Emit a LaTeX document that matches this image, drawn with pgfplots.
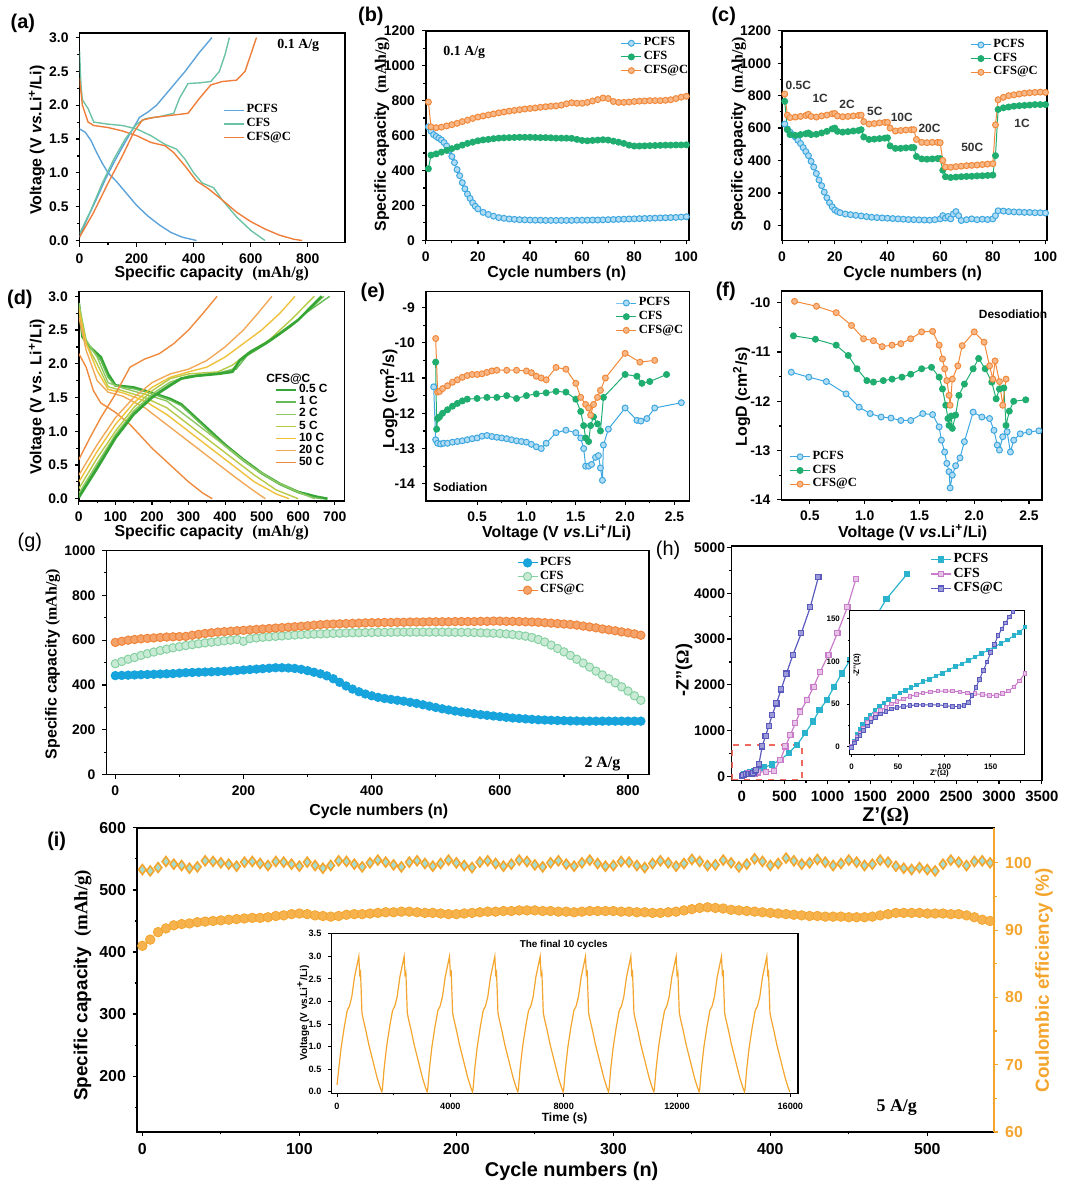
\documentclass[border=0pt]{standalone}
\usepackage{fontspec}
\setmainfont{Liberation Sans}
\newfontfamily\tnr{Liberation Serif}
\usepackage{pgfplots}
\pgfplotsset{compat=1.18}

\definecolor{aBlue}{HTML}{5DA3D9}
\definecolor{aGreen}{HTML}{6CC3A4}
\definecolor{aOrange}{HTML}{EE7E3A}
\definecolor{cBlue}{HTML}{3DA7E0}
\definecolor{cGreen}{HTML}{1FAE70}
\definecolor{cOrange}{HTML}{F2893A}
\definecolor{gBlue}{HTML}{17A3DC}
\definecolor{gGreen}{HTML}{86D1A2}
\definecolor{gOrange}{HTML}{F0843A}
\definecolor{hCyan}{HTML}{2BB3CE}
\definecolor{hPink}{HTML}{C97CC9}
\definecolor{hPurple}{HTML}{5A59BE}
\definecolor{dA}{HTML}{35A535}
\definecolor{dB}{HTML}{66BB55}
\definecolor{dC}{HTML}{8FC862}
\definecolor{dD}{HTML}{B7C946}
\definecolor{dE}{HTML}{EFC13A}
\definecolor{dF}{HTML}{F1A858}
\definecolor{dG}{HTML}{EF8B3E}
\definecolor{iOrange}{HTML}{F4A52E}
\definecolor{iCyan}{HTML}{A5DDD3}
\definecolor{boxRed}{HTML}{EE6A5E}

\newcommand\fs[1]{\fontsize{#1}{#1}\selectfont}

\pgfplotsset{
  panel/.style={scale only axis, anchor=south west, tick align=outside, tick pos=left,
    axis line style={line width=0.75pt},
    tick style={line width=0.6pt, black},
    major tick length=2pt, minor tick length=1.2pt,
    tick label style={font=\fs{7}\bfseries},
    /pgf/number format/assume math mode=true,
    /pgf/number format/1000 sep={},
    scaled ticks=false,
    legend cell align=left,
    legend style={draw=none, fill=none, font=\tnr\bfseries\fs{6.3}, inner sep=0pt,
      nodes={inner ysep=0.6pt, inner xsep=1pt}},
    legend image code/.code={\draw[mark repeat=2,mark phase=2] plot coordinates {(0pt,0pt) (5pt,0pt) (10pt,0pt)};},
  },
  mB/.style={cBlue, mark=*, mark size=1.5pt, line width=0.5pt, mark options={fill=cBlue!40!white, line width=0.5pt}},
  mG/.style={cGreen, mark=*, mark size=1.5pt, line width=0.5pt, mark options={fill=cGreen, line width=0.5pt}},
  mO/.style={cOrange, mark=*, mark size=1.5pt, line width=0.5pt, mark options={fill=cOrange!60!white, line width=0.5pt}},
  hq/.style={mark=square*, mark size=1.3pt, line width=0.6pt},
}

\begin{document}
\begin{tikzpicture}
\begin{scope}[x=0.5pt,y=-0.5pt]
\path[use as bounding box] (0,0) rectangle (1067,1187);
\coordinate (A) at (80,243);
\coordinate (B) at (428.3,240.7);
\coordinate (C) at (786.7,240.7);
\coordinate (D) at (79.3,502.7);
\coordinate (E) at (428.3,502.7);
\coordinate (F) at (786,501.7);
\coordinate (G) at (107,778.3);
\coordinate (H) at (735.7,784);
\coordinate (HI) at (854.3,757.7);
\coordinate (I) at (137.7,1137.7);
\coordinate (II) at (333.3,1099);
\end{scope}

% (a)
\begin{axis}[panel, at={(A)}, width=133.5pt, height=105.5pt,
  xmin=0, xmax=930, ymin=-0.03, ymax=3.07,
  xtick={0,200,400,600,800}, ytick={0,0.5,1,1.5,2,2.5,3},
  minor x tick num=1, minor y tick num=1,
  yticklabel style={/pgf/number format/.cd, fixed, fixed zerofill, precision=1},
  legend style={at={(0.54,0.665)}, anchor=north west}]
\addplot[aBlue, line width=0.7pt] coordinates {(0,1.65) (20,1.6) (40,1.48) (60,1.3) (80,1.14) (100,1.0) (130,0.87) (160,0.72) (200,0.52) (240,0.36) (280,0.23) (320,0.12) (360,0.05) (400,0.01) (410,0)};
\addlegendentry{PCFS}
\addplot[aGreen, line width=0.7pt] coordinates {(0,2.8) (5,2.3) (10,2.08) (30,1.95) (50,1.75) (100,1.72) (150,1.7) (200,1.65) (250,1.55) (300,1.42) (340,1.35) (370,1.2) (400,1.0) (430,0.85) (470,0.78) (500,0.6) (550,0.35) (600,0.15) (650,0.0)};
\addlegendentry{CFS}
\addplot[aOrange, line width=0.7pt] coordinates {(0,2.4) (10,2.0) (30,1.75) (50,1.7) (100,1.67) (150,1.62) (200,1.55) (250,1.45) (300,1.4) (330,1.3) (370,1.1) (410,0.88) (450,0.77) (500,0.6) (550,0.42) (600,0.28) (650,0.17) (700,0.08) (750,0.02) (780,0)};
\addlegendentry{CFS@C}
\addplot[aBlue, line width=0.7pt, forget plot] coordinates {(0,0.05) (30,0.35) (60,0.62) (90,0.9) (120,1.15) (150,1.38) (180,1.6) (210,1.82) (240,1.9) (270,2.0) (320,2.25) (370,2.5) (420,2.78) (464,3.0)};
\addplot[aGreen, line width=0.7pt, forget plot] coordinates {(0,0.1) (40,0.45) (80,0.85) (120,1.2) (160,1.5) (200,1.72) (230,1.8) (280,1.83) (330,1.88) (350,2.1) (380,2.32) (420,2.33) (460,2.35) (490,2.5) (510,2.75) (525,3.0)};
\addplot[aOrange, line width=0.7pt, forget plot] coordinates {(0,0.05) (50,0.42) (100,0.85) (150,1.25) (190,1.6) (220,1.78) (260,1.82) (320,1.85) (380,1.88) (420,2.1) (460,2.3) (500,2.35) (550,2.37) (580,2.5) (600,2.75) (620,3.0)};
\end{axis}

% (b)
\begin{axis}[panel, at={(B)}, width=132.35pt, height=105.35pt,
  xmin=0, xmax=101, ymin=0, ymax=1200,
  xtick={0,20,...,100}, ytick={0,200,...,1200},
  minor x tick num=1, minor y tick num=1,
  legend style={at={(0.74,0.975)}, anchor=north west}]
\addplot[mB] coordinates {(1,650) (2,625) (3,605) (4,595) (5,585) (6,575) (7,560) (8,540) (9,515) (10,480) (11,445) (12,405) (13,370) (14,330) (15,295) (16,265) (17,240) (18,215) (19,195) (20,180) (22,160) (24,148) (26,138) (28,130) (30,126) (32,122) (34,120) (36,118) (38,117) (40,116) (42,115) (44,115) (46,114) (48,114) (50,114) (52,114) (54,114) (56,114) (58,115) (60,115) (62,115) (64,116) (66,116) (68,117) (70,118) (72,119) (74,120) (76,121) (78,122) (80,123) (82,124) (84,125) (86,126) (88,127) (90,128) (92,129) (94,130) (96,131) (98,133) (100,135)};
\addlegendentry{PCFS}
\addplot[mG] coordinates {(1,410) (2,488) (4,495) (6,505) (8,515) (10,525) (12,535) (14,545) (16,555) (18,562) (20,570) (22,575) (24,578) (26,582) (28,585) (30,587) (32,588) (34,589) (36,590) (38,590) (40,590) (42,589) (44,588) (46,588) (48,587) (50,585) (52,585) (54,585) (56,584) (58,578) (60,572) (62,570) (64,572) (66,574) (68,576) (70,574) (72,568) (74,562) (76,555) (78,545) (80,540) (82,540) (84,541) (86,542) (88,543) (90,544) (92,545) (94,545) (96,546) (98,546) (100,547)};
\addlegendentry{CFS}
\addplot[mO] coordinates {(1,792) (2,650) (4,645) (6,648) (8,655) (10,662) (12,670) (14,680) (16,688) (18,698) (20,706) (22,712) (24,718) (26,724) (28,730) (30,735) (32,740) (34,744) (36,748) (38,752) (40,755) (42,758) (44,762) (46,765) (48,768) (50,770) (52,774) (54,782) (56,788) (58,785) (60,785) (62,790) (64,798) (66,806) (68,815) (70,812) (72,795) (74,790) (76,790) (78,792) (80,795) (82,797) (84,798) (86,800) (88,800) (90,800) (92,802) (94,805) (96,812) (98,820) (100,825)};
\addlegendentry{CFS@C}
\end{axis}

% (c)
\begin{axis}[panel, at={(C)}, width=133.15pt, height=105.35pt,
  xmin=0, xmax=100.5, ymin=-92, ymax=1200,
  xtick={0,20,...,100}, ytick={0,200,...,1200},
  minor x tick num=1, minor y tick num=1,
  legend style={at={(0.71,0.967)}, anchor=north west}]
\addplot[mB] coordinates {(1,625) (2,595) (3,575) (4,560) (5,545) (6,525) (7,505) (8,480) (9,455) (10,430) (11,395) (12,360) (13,320) (14,280) (15,245) (16,205) (17,170) (18,140) (19,115) (20,95) (21,85) (22,78) (24,70) (26,66) (28,62) (30,58) (32,54) (34,50) (36,48) (38,46) (40,44) (42,42) (44,40) (46,38) (48,36) (50,35) (52,34) (54,33) (56,32) (58,35) (60,40) (61,60) (62,45) (63,55) (64,40) (65,70) (66,85) (67,60) (68,30) (70,35) (72,40) (74,35) (76,38) (78,36) (80,40) (81,60) (82,90) (84,88) (86,85) (88,83) (90,82) (92,80) (94,80) (96,78) (98,78) (100,76)};
\addlegendentry{PCFS}
\addplot[mG] coordinates {(1,765) (2,590) (3,560) (5,555) (7,560) (9,565) (10,570) (11,560) (13,562) (15,570) (17,580) (19,595) (20,600) (21,580) (23,575) (25,578) (27,582) (29,585) (30,590) (31,545) (33,530) (35,532) (37,535) (39,538) (40,540) (41,490) (43,475) (45,475) (47,478) (49,480) (50,480) (51,425) (53,410) (55,408) (57,410) (59,412) (60,412) (61,340) (62,300) (64,295) (66,298) (68,300) (70,302) (72,303) (74,305) (76,306) (78,308) (80,310) (81,430) (82,715) (84,725) (86,730) (88,735) (90,738) (92,740) (94,742) (96,745) (98,745) (100,745)};
\addlegendentry{CFS}
\addplot[mO] coordinates {(1,810) (2,680) (3,665) (5,668) (7,672) (9,678) (10,685) (11,672) (13,668) (15,675) (17,680) (19,688) (20,690) (21,675) (23,670) (25,672) (27,675) (29,678) (30,680) (31,640) (33,625) (35,628) (37,632) (39,635) (40,635) (41,600) (43,582) (45,585) (47,588) (49,590) (50,590) (51,530) (53,512) (55,510) (57,512) (59,512) (60,510) (61,400) (62,360) (64,358) (66,362) (68,365) (70,368) (72,370) (74,372) (76,375) (78,378) (80,380) (81,620) (82,775) (84,790) (86,800) (88,805) (90,810) (92,815) (94,818) (96,820) (98,822) (100,820)};
\addlegendentry{CFS@C}
\end{axis}

% (d)
\begin{axis}[panel, at={(D)}, width=133.7pt, height=105.2pt,
  xmin=0, xmax=727, ymin=-0.03, ymax=3.07,
  xtick={0,100,...,700}, ytick={0,0.5,1,1.5,2,2.5,3},
  minor x tick num=1, minor y tick num=1,
  yticklabel style={/pgf/number format/.cd, fixed, fixed zerofill, precision=1},
  legend style={at={(0.735,0.56)}, anchor=north west, font=\bfseries\fs{6},
    nodes={inner ysep=0.2pt, inner xsep=1pt}}]
\addplot[dA, line width=1.3pt] coordinates {(0,2.9) (10,2.4) (30,2.25) (60,2.1) (80,1.85) (100,1.68) (150,1.65) (200,1.57) (250,1.48) (280,1.4) (320,1.2) (360,1.0) (400,0.8) (450,0.58) (500,0.38) (550,0.22) (600,0.1) (650,0.03) (680,0)};
\addlegendentry{0.5 C}
\addplot[dB, line width=0.7pt] coordinates {(0,2.9) (10,2.45) (30,2.25) (60,2.05) (80,1.8) (100,1.67) (150,1.63) (200,1.56) (250,1.46) (280,1.38) (320,1.18) (360,0.98) (400,0.78) (450,0.56) (500,0.37) (550,0.21) (600,0.09) (640,0.02) (665,0)};
\addlegendentry{1 C}
\addplot[dC, line width=0.7pt] coordinates {(0,2.9) (20,2.35) (50,2.1) (80,1.72) (120,1.64) (180,1.55) (240,1.45) (300,1.2) (360,0.95) (420,0.7) (480,0.45) (540,0.25) (600,0.1) (645,0)};
\addlegendentry{2 C}
\addplot[dD, line width=0.7pt] coordinates {(0,2.85) (20,2.3) (50,2.0) (80,1.66) (120,1.6) (180,1.5) (240,1.35) (300,1.1) (360,0.85) (420,0.6) (480,0.35) (540,0.13) (600,0)};
\addlegendentry{5 C}
\addplot[dE, line width=0.7pt] coordinates {(0,2.8) (20,2.3) (50,1.9) (80,1.62) (120,1.57) (180,1.45) (240,1.25) (300,1.0) (360,0.75) (420,0.5) (480,0.25) (540,0.07) (575,0)};
\addlegendentry{10 C}
\addplot[dF, line width=0.7pt] coordinates {(0,2.7) (20,2.2) (50,1.75) (80,1.58) (120,1.52) (180,1.35) (240,1.1) (300,0.85) (360,0.6) (420,0.35) (470,0.15) (510,0)};
\addlegendentry{20 C}
\addplot[dG, line width=0.7pt] coordinates {(0,2.15) (20,1.95) (40,1.6) (60,1.42) (100,1.28) (140,1.1) (200,0.75) (250,0.5) (300,0.25) (340,0.08) (365,0)};
\addlegendentry{50 C}
\addplot[dG, line width=0.7pt, forget plot] coordinates {(0,0.58) (30,0.9) (60,1.2) (100,1.55) (140,1.95) (180,2.07) (220,2.15) (260,2.3) (300,2.5) (340,2.75) (378,3.0)};
\addplot[dF, line width=0.7pt, forget plot] coordinates {(0,0.35) (50,0.8) (100,1.2) (150,1.5) (200,1.72) (250,1.85) (300,1.92) (350,2.05) (400,2.25) (450,2.5) (490,2.75) (528,3.0)};
\addplot[dE, line width=0.7pt, forget plot] coordinates {(0,0.25) (50,0.7) (100,1.1) (150,1.42) (200,1.65) (250,1.8) (300,1.88) (350,1.95) (400,2.1) (450,2.3) (500,2.5) (550,2.75) (591,3.0)};
\addplot[dD, line width=0.7pt, forget plot] coordinates {(0,0.15) (50,0.6) (100,1.0) (150,1.35) (200,1.6) (250,1.78) (300,1.85) (380,1.88) (420,1.98) (460,2.15) (520,2.35) (580,2.65) (644,3.0)};
\addplot[dC, line width=0.7pt, forget plot] coordinates {(0,0.08) (50,0.52) (100,0.95) (150,1.3) (200,1.55) (250,1.73) (300,1.82) (380,1.86) (420,1.92) (460,2.15) (520,2.33) (580,2.55) (640,2.85) (670,3.0)};
\addplot[dB, line width=0.7pt, forget plot] coordinates {(0,0.04) (50,0.48) (100,0.92) (150,1.27) (200,1.52) (250,1.7) (280,1.79) (320,1.83) (380,1.86) (430,1.92) (460,2.12) (490,2.22) (530,2.36) (570,2.52) (620,2.75) (686,3.0)};
\addplot[dA, line width=1.3pt, forget plot] coordinates {(0,0.02) (50,0.45) (100,0.9) (150,1.25) (200,1.5) (250,1.68) (280,1.78) (320,1.82) (380,1.85) (420,1.88) (440,2.05) (470,2.18) (510,2.3) (550,2.45) (600,2.65) (664,3.0)};
\end{axis}

% (e)
\begin{axis}[panel, at={(E)}, width=132.5pt, height=105.2pt,
  xmin=-0.02, xmax=2.65, ymin=-14.48, ymax=-8.55,
  xtick={0.5,1,1.5,2,2.5}, ytick={-14,-13,-12,-11,-10,-9},
  minor x tick num=1, minor y tick num=1,
  xticklabel style={/pgf/number format/.cd, fixed, fixed zerofill, precision=1},
  legend style={at={(0.72,0.98)}, anchor=north west}]
\addplot[mB] coordinates {(0.06,-11.25) (0.08,-12.75) (0.1,-12.85) (0.13,-12.87) (0.16,-12.85) (0.2,-12.85) (0.25,-12.82) (0.3,-12.8) (0.35,-12.78) (0.4,-12.75) (0.45,-12.72) (0.5,-12.7) (0.55,-12.65) (0.6,-12.63) (0.65,-12.66) (0.7,-12.68) (0.75,-12.7) (0.8,-12.72) (0.85,-12.75) (0.9,-12.78) (0.95,-12.8) (1.0,-12.82) (1.05,-12.88) (1.1,-12.95) (1.15,-13.0) (1.2,-12.85) (1.3,-12.55) (1.4,-12.48) (1.5,-12.55) (1.55,-12.7) (1.58,-13.0) (1.6,-13.5) (1.63,-13.5) (1.66,-13.45) (1.7,-13.25) (1.73,-13.2) (1.75,-13.55) (1.77,-13.9) (1.78,-12.9) (1.83,-12.45) (2.0,-11.85) (2.12,-12.2) (2.16,-12.22) (2.22,-12.15) (2.3,-11.85) (2.57,-11.7)};
\addlegendentry{PCFS}
\addplot[mG] coordinates {(0.08,-10.55) (0.09,-12.45) (0.1,-12.15) (0.12,-12.1) (0.15,-12.0) (0.2,-11.9) (0.25,-11.8) (0.3,-11.72) (0.35,-11.65) (0.4,-11.6) (0.5,-11.58) (0.6,-11.55) (0.7,-11.55) (0.8,-11.5) (0.9,-11.58) (1.0,-11.5) (1.1,-11.45) (1.2,-11.42) (1.3,-11.38) (1.4,-11.4) (1.5,-11.6) (1.55,-11.95) (1.58,-12.35) (1.6,-12.7) (1.63,-12.8) (1.65,-12.35) (1.68,-12.1) (1.72,-12.3) (1.75,-12.5) (1.78,-11.55) (2.0,-10.9) (2.12,-10.95) (2.17,-11.15) (2.25,-11.1) (2.42,-10.9)};
\addlegendentry{CFS}
\addplot[mO] coordinates {(0.08,-9.88) (0.1,-11.4) (0.12,-11.38) (0.15,-11.3) (0.2,-11.22) (0.25,-11.12) (0.3,-11.05) (0.35,-10.98) (0.4,-10.93) (0.45,-10.9) (0.5,-10.9) (0.55,-10.88) (0.6,-10.84) (0.65,-10.8) (0.7,-10.78) (0.8,-10.78) (0.9,-10.78) (1.0,-10.8) (1.05,-10.85) (1.1,-10.95) (1.15,-11.0) (1.2,-11.05) (1.3,-10.7) (1.4,-10.75) (1.5,-11.15) (1.55,-11.55) (1.6,-11.75) (1.63,-11.85) (1.65,-12.05) (1.68,-11.75) (1.72,-11.55) (1.75,-11.35) (1.8,-11.0) (2.0,-10.3) (2.15,-10.55) (2.3,-10.5)};
\addlegendentry{CFS@C}
\end{axis}

% (f)
\begin{axis}[panel, at={(F)}, width=131.15pt, height=105pt,
  xmin=0.24, xmax=2.62, ymin=-14, ymax=-9.76,
  xtick={0.5,1,1.5,2,2.5}, ytick={-14,-13,-12,-11,-10},
  minor x tick num=1, minor y tick num=1,
  xticklabel style={/pgf/number format/.cd, fixed, fixed zerofill, precision=1},
  legend style={at={(0.03,0.04)}, anchor=south west}]
\addplot[mB] coordinates {(0.33,-11.41) (0.49,-11.51) (0.65,-11.6) (0.83,-11.85) (0.95,-12.12) (1.05,-12.25) (1.15,-12.32) (1.24,-12.34) (1.33,-12.39) (1.42,-12.39) (1.53,-12.25) (1.62,-12.27) (1.68,-12.52) (1.7,-12.79) (1.73,-13.03) (1.75,-13.26) (1.77,-13.43) (1.78,-13.76) (1.8,-13.5) (1.83,-13.31) (1.87,-13.15) (1.91,-12.82) (1.99,-12.22) (2.07,-12.32) (2.14,-12.35) (2.18,-12.59) (2.21,-12.89) (2.23,-12.99) (2.26,-12.72) (2.3,-12.62) (2.33,-13.03) (2.36,-12.79) (2.42,-12.66) (2.5,-12.62) (2.59,-12.6)};
\addlegendentry{PCFS}
\addplot[mG] coordinates {(0.35,-10.67) (0.55,-10.74) (0.74,-10.86) (0.85,-11.07) (0.93,-11.34) (1.02,-11.58) (1.08,-11.61) (1.17,-11.58) (1.25,-11.55) (1.34,-11.51) (1.42,-11.45) (1.52,-11.34) (1.61,-11.31) (1.68,-11.51) (1.71,-11.75) (1.74,-12.08) (1.76,-12.35) (1.77,-12.49) (1.79,-12.3) (1.8,-12.55) (1.83,-12.28) (1.86,-11.88) (1.91,-11.65) (1.99,-11.34) (2.04,-11.13) (2.1,-11.34) (2.16,-11.61) (2.2,-11.95) (2.23,-11.75) (2.27,-11.73) (2.29,-12.49) (2.32,-12.2) (2.36,-12.0) (2.47,-11.97)};
\addlegendentry{CFS}
\addplot[mO] coordinates {(0.36,-9.97) (0.56,-10.07) (0.74,-10.2) (0.88,-10.46) (0.99,-10.73) (1.08,-10.77) (1.16,-10.89) (1.25,-10.86) (1.33,-10.83) (1.42,-10.73) (1.52,-10.59) (1.62,-10.58) (1.68,-10.86) (1.71,-11.14) (1.73,-11.34) (1.75,-11.58) (1.77,-11.88) (1.78,-12.08) (1.8,-11.55) (1.85,-11.28) (1.89,-10.87) (2.0,-10.59) (2.09,-10.8) (2.14,-11.28) (2.17,-11.55) (2.19,-11.18) (2.23,-11.6) (2.26,-12.08) (2.29,-11.55)};
\addlegendentry{CFS@C}
\end{axis}

% (g)
\begin{axis}[panel, at={(G)}, width=273pt, height=112.8pt,
  xmin=-14, xmax=833, ymin=0, ymax=1000,
  xtick={0,200,...,800}, ytick={0,200,...,1000},
  minor x tick num=1, minor y tick num=1,
  legend style={at={(0.756,0.977)}, anchor=north west}]
\addplot[gBlue, line width=0.5pt, mark=*, mark size=2.1pt, mark options={fill=gBlue}] coordinates {(0,442) (10,443) (20,444) (30,445) (40,446) (50,447) (60,448) (70,449) (80,450) (90,451) (100,453) (110,455) (120,456) (130,457) (140,458) (150,459) (160,460) (170,461) (180,463) (190,465) (200,467) (210,469) (220,471) (230,473) (240,475) (250,477) (260,477) (270,476) (280,474) (290,470) (300,464) (310,457) (320,450) (330,441) (340,428) (350,412) (360,396) (370,382) (380,370) (390,360) (400,352) (410,345) (420,340) (430,336) (440,332) (450,328) (460,323) (470,318) (480,312) (490,306) (500,300) (510,294) (520,289) (530,284) (540,280) (550,276) (560,272) (570,268) (580,265) (590,262) (600,259) (610,256) (620,253) (630,251) (640,249) (650,247) (660,245) (670,244) (680,243) (690,242) (700,241) (710,240) (720,240) (730,239) (740,239) (750,239) (760,239) (770,239) (780,239) (790,239) (800,239) (810,239) (820,239)};
\addlegendentry{PCFS}
\addplot[gGreen, line width=0.5pt, mark=*, mark size=2.1pt, mark options={fill=gGreen!45!white}] coordinates {(0,495) (10,505) (20,515) (30,523) (40,532) (50,540) (60,547) (70,554) (80,560) (90,566) (100,571) (110,576) (120,580) (130,584) (140,588) (150,591) (160,594) (170,597) (180,600) (190,603) (200,595) (210,607) (220,610) (230,613) (240,615) (250,617) (260,619) (270,621) (280,623) (290,625) (300,626) (310,627) (320,628) (330,629) (340,630) (350,631) (360,632) (370,633) (380,633) (390,634) (400,634) (410,635) (420,635) (430,635) (440,636) (450,636) (460,636) (470,636) (480,636) (490,636) (500,636) (510,636) (520,636) (530,635) (540,635) (550,635) (560,634) (570,633) (580,632) (590,631) (600,630) (610,628) (620,625) (630,622) (640,618) (650,612) (660,603) (670,592) (680,578) (690,563) (700,548) (710,532) (720,515) (730,498) (740,480) (750,462) (760,445) (770,428) (780,410) (790,392) (800,373) (810,352) (820,332)};
\addlegendentry{CFS}
\addplot[gOrange, line width=0.5pt, mark=*, mark size=2.1pt, mark options={fill=gOrange!75!white}] coordinates {(0,590) (10,595) (20,600) (30,603) (40,606) (50,608) (60,610) (70,612) (80,614) (90,615) (100,616) (110,617) (120,622) (130,626) (140,630) (150,633) (160,636) (170,638) (180,640) (190,642) (200,644) (210,646) (220,648) (230,650) (240,652) (250,654) (260,656) (270,658) (280,660) (290,662) (300,664) (310,667) (320,669) (330,671) (340,672) (350,673) (360,674) (370,675) (380,676) (390,677) (400,678) (410,678) (420,679) (430,679) (440,680) (450,680) (460,681) (470,681) (480,681) (490,682) (500,682) (510,682) (520,682) (530,683) (540,683) (550,683) (560,683) (570,684) (580,684) (590,685) (600,685) (610,684) (620,684) (630,683) (640,682) (650,681) (660,680) (670,678) (680,676) (690,674) (700,672) (710,670) (720,667) (730,663) (740,659) (750,655) (760,650) (770,646) (780,642) (790,637) (800,633) (810,628) (820,622)};
\addlegendentry{CFS@C}
\end{axis}

% (h)
\begin{axis}[panel, at={(H)}, width=156.15pt, height=118pt,
  xmin=-120, xmax=3500, ymin=-90, ymax=5040,
  xtick={0,500,...,3500}, ytick={0,1000,...,5000},
  minor x tick num=1, minor y tick num=1,
  tick label style={font=\fs{7.5}\bfseries},
  yticklabel style={font=\fs{7}\bfseries, inner xsep=1pt},
  legend style={at={(0.64,0.975)}, anchor=north west, font=\tnr\bfseries\fs{7}}]
\addplot[hCyan, hq, mark options={fill=hCyan}] coordinates {(0,0) (30,42) (60,67) (100,92) (140,115) (185,140) (260,190) (355,260) (452,362) (548,507) (645,688) (741,942) (830,1196) (907,1449) (992,1667) (1077,1957) (1166,2246) (1263,2536) (1386,2971) (1525,3370) (1687,3877) (1927,4420)};
\addlegendentry{PCFS}
\addplot[hPink, hq, mark options={fill=hPink!45!white}] coordinates {(0,0) (20,31) (48,51) (80,64) (116,64) (152,60) (186,86) (280,100) (375,109) (452,362) (510,652) (568,906) (625,1159) (683,1413) (761,1667) (838,1957) (915,2283) (1012,2659) (1116,3130) (1232,3696) (1332,4312)};
\addlegendentry{CFS}
\addplot[hPurple, hq, mark options={fill=hPurple!60!white}] coordinates {(0,0) (20,25) (48,44) (80,49) (113,47) (123,51) (137,78) (152,109) (166,141) (200,260) (239,652) (278,884) (316,1101) (355,1340) (405,1594) (459,1899) (521,2246) (598,2659) (695,3130) (799,3696) (895,4362)};
\addlegendentry{CFS@C}
\draw[boxRed, dashed, line width=0.8pt] (axis cs:-110,-70) rectangle (axis cs:700,690);
\end{axis}

% (h) inset
\begin{axis}[panel, at={(HI)}, width=88.35pt, height=72.5pt,
  xmin=-2.5, xmax=187, ymin=-9, ymax=160,
  xtick={0,50,100,150}, ytick={0,50,100,150},
  minor x tick num=1, minor y tick num=1,
  major tick length=1.2pt, minor tick length=0.7pt,
  axis line style={line width=0.5pt}, tick style={line width=0.4pt},
  tick label style={font=\fs{4}\bfseries},
  axis background/.style={fill=white}]
\addplot[hCyan, mark=square*, mark size=0.9pt, line width=0.5pt, mark options={fill=hCyan}] coordinates {(0,0) (3,6) (6,14) (9,20) (12,26) (16,32) (20,37) (25,42) (30,47) (35,51) (40,55) (46,59) (52,63) (58,66) (64,69) (70,72) (77,76) (84,79) (91,83) (98,86) (105,90) (112,94) (119,97) (126,101) (133,105) (140,109) (147,113) (154,117) (161,121) (168,125) (175,130) (181,134) (187,140)};
\addplot[hPink, mark=square*, mark size=0.9pt, line width=0.5pt, mark options={fill=hPink!45!white}] coordinates {(0,0) (3,5) (6,11) (9,16) (13,22) (17,28) (21,33) (26,38) (31,42) (37,46) (43,50) (49,53) (56,56) (63,59) (70,61) (77,63) (85,64) (93,65) (101,65) (109,65) (117,64) (125,63) (133,62) (141,61) (149,60) (156,60) (163,62) (169,65) (175,70) (181,77) (187,86)};
\addplot[hPurple, mark=square*, mark size=0.9pt, line width=0.5pt, mark options={fill=hPurple!60!white}] coordinates {(0,-1) (3,4) (6,9) (9,13) (13,19) (17,24) (21,29) (26,34) (31,38) (37,41) (43,44) (49,46) (56,47) (63,48) (70,49) (77,49) (85,49) (93,49) (101,48) (109,47) (116,47) (121,48) (126,52) (130,60) (134,69) (138,79) (142,89) (146,99) (150,110) (154,120) (158,130) (162,138) (166,145) (170,152) (174,158) (178,166)};
\end{axis}

% (i) capacity
\begin{axis}[panel, at={(I)}, width=431.15pt, height=153pt,
  xmin=-3.5, xmax=542.6, ymin=110, ymax=600,
  xtick={0,100,...,500}, ytick={200,300,...,600},
  minor xtick={50,150,250,350,450}, minor ytick={150,250,350,450,550},
  tick label style={font=\fs{8}\bfseries}]
\addplot[iOrange, only marks, mark=*, mark size=2.4pt, mark options={fill=iOrange!85!white, draw=iOrange}] coordinates {(0,410) (5,420) (10,432) (15,438) (20,443) (25,445) (30,446) (35,448) (40,449) (45,450) (50,451) (55,452) (60,453) (65,454) (70,455) (75,455) (80,456) (85,458) (90,459) (95,461) (100,462) (105,461) (110,459) (115,458) (120,457) (125,458) (130,460) (135,461) (140,461) (145,462) (150,463) (155,464) (160,464) (165,465) (170,465) (175,464) (180,463) (185,463) (190,462) (195,461) (200,461) (205,462) (210,463) (215,464) (220,465) (225,465) (230,466) (235,466) (240,467) (245,467) (250,467) (255,466) (260,466) (265,465) (270,465) (275,464) (280,465) (285,466) (290,466) (295,466) (300,466) (305,465) (310,465) (315,464) (320,464) (325,463) (330,463) (335,464) (340,465) (345,467) (350,469) (355,471) (360,472) (365,471) (370,470) (375,468) (380,467) (385,466) (390,465) (395,464) (400,463) (405,462) (410,461) (415,460) (420,459) (425,458) (430,458) (435,457) (440,457) (445,457) (450,456) (455,456) (460,456) (465,457) (470,459) (475,461) (480,463) (485,463) (490,463) (495,463) (500,462) (505,462) (510,462) (515,461) (520,461) (525,459) (530,456) (535,452) (540,450)};
\end{axis}

% (i) coulombic efficiency
\begin{axis}[panel, at={(I)}, width=431.15pt, height=153pt,
  xmin=-3.5, xmax=542.6, ymin=60, ymax=105.2,
  axis x line=none, axis y line*=right, ytick pos=right,
  ytick={60,70,80,90,100}, minor ytick={65,75,85,95},
  y axis line style={draw=iOrange, line width=0.9pt}, tick style={iOrange, line width=0.6pt},
  tick label style={font=\fs{8}\bfseries}, yticklabel style={text=iOrange}]
\addplot[only marks, mark=diamond*, mark size=2.5pt, mark options={fill=iCyan, draw=iOrange, line width=0.8pt}] coordinates {(0,99.0) (5,98.8) (10,99.3) (15,100.2) (20,99.8) (25,99.6) (30,99.2) (35,99.4) (40,100.3) (45,100.2) (50,100.0) (55,99.8) (60,99.5) (65,100.1) (70,100.2) (75,99.9) (80,99.6) (85,100.2) (90,100.1) (95,99.8) (100,99.5) (105,100.1) (110,99.6) (115,99.2) (120,99.6) (125,100.3) (130,100.2) (135,99.8) (140,99.4) (145,100.0) (150,100.4) (155,100.1) (160,99.7) (165,99.4) (170,100.1) (175,100.3) (180,99.9) (185,99.5) (190,99.9) (195,100.4) (200,100.0) (205,99.6) (210,99.3) (215,100.1) (220,100.3) (225,99.9) (230,99.5) (235,99.8) (240,100.4) (245,100.2) (250,99.7) (255,99.4) (260,100.0) (265,100.3) (270,99.8) (275,99.5) (280,100.0) (285,100.4) (290,99.9) (295,99.5) (300,99.6) (305,100.2) (310,100.1) (315,99.6) (320,99.3) (325,99.9) (330,100.3) (335,100.0) (340,99.5) (345,99.9) (350,100.5) (355,100.2) (360,99.6) (365,99.7) (370,100.4) (375,100.0) (380,99.4) (385,99.8) (390,100.6) (395,100.2) (400,99.6) (405,99.9) (410,100.7) (415,100.3) (420,99.8) (425,100.0) (430,100.5) (435,100.1) (440,99.6) (445,99.9) (450,100.4) (455,100.1) (460,99.6) (465,99.8) (470,100.4) (475,100.1) (480,99.5) (485,99.2) (490,99.0) (495,99.3) (500,99.0) (505,98.8) (510,99.8) (515,100.4) (520,100.1) (525,99.6) (530,100.2) (535,100.3) (540,100.0)};
\end{axis}

% (i) inset
\begin{axis}[panel, at={(II)}, width=234.7pt, height=80.35pt,
  xmin=-200, xmax=16270, ymin=-0.04, ymax=3.5,
  xtick={0,4000,8000,12000,16000}, ytick={0,0.5,1,1.5,2,2.5,3,3.5},
  minor x tick num=1,
  major tick length=1.5pt, minor tick length=0.9pt,
  axis line style={line width=0.6pt}, tick style={line width=0.5pt},
  tick label style={font=\fs{4.6}\bfseries},
  xticklabel style={/pgf/number format/.cd, fixed, precision=0},
  yticklabel style={/pgf/number format/.cd, fixed, fixed zerofill, precision=1},
  axis background/.style={fill=white}]
\addplot[iOrange, line width=0.6pt] coordinates {(0,0.15) (60,0.5) (150,1.0) (260,1.45) (360,1.8) (440,1.9) (520,2.1) (620,2.55) (770,3.0) (800,2.6) (830,2.65) (880,1.75) (920,1.62) (1020,1.35) (1120,1.05) (1220,0.8) (1320,0.55) (1420,0.3) (1520,0.1) (1580,0.0)
(1600,0.05) (1660,0.5) (1750,1.0) (1860,1.45) (1960,1.8) (2040,1.9) (2120,2.1) (2220,2.55) (2370,3.0) (2400,2.6) (2430,2.65) (2480,1.75) (2520,1.62) (2620,1.35) (2720,1.05) (2820,0.8) (2920,0.55) (3020,0.3) (3120,0.1) (3180,0.0)
(3200,0.05) (3260,0.5) (3350,1.0) (3460,1.45) (3560,1.8) (3640,1.9) (3720,2.1) (3820,2.55) (3970,3.0) (4000,2.6) (4030,2.65) (4080,1.75) (4120,1.62) (4220,1.35) (4320,1.05) (4420,0.8) (4520,0.55) (4620,0.3) (4720,0.1) (4780,0.0)
(4800,0.05) (4860,0.5) (4950,1.0) (5060,1.45) (5160,1.8) (5240,1.9) (5320,2.1) (5420,2.55) (5570,3.0) (5600,2.6) (5630,2.65) (5680,1.75) (5720,1.62) (5820,1.35) (5920,1.05) (6020,0.8) (6120,0.55) (6220,0.3) (6320,0.1) (6380,0.0)
(6400,0.05) (6460,0.5) (6550,1.0) (6660,1.45) (6760,1.8) (6840,1.9) (6920,2.1) (7020,2.55) (7170,3.0) (7200,2.6) (7230,2.65) (7280,1.75) (7320,1.62) (7420,1.35) (7520,1.05) (7620,0.8) (7720,0.55) (7820,0.3) (7920,0.1) (7980,0.0)
(8000,0.05) (8060,0.5) (8150,1.0) (8260,1.45) (8360,1.8) (8440,1.9) (8520,2.1) (8620,2.55) (8770,3.0) (8800,2.6) (8830,2.65) (8880,1.75) (8920,1.62) (9020,1.35) (9120,1.05) (9220,0.8) (9320,0.55) (9420,0.3) (9520,0.1) (9580,0.0)
(9600,0.05) (9660,0.5) (9750,1.0) (9860,1.45) (9960,1.8) (10040,1.9) (10120,2.1) (10220,2.55) (10370,3.0) (10400,2.6) (10430,2.65) (10480,1.75) (10520,1.62) (10620,1.35) (10720,1.05) (10820,0.8) (10920,0.55) (11020,0.3) (11120,0.1) (11180,0.0)
(11200,0.05) (11260,0.5) (11350,1.0) (11460,1.45) (11560,1.8) (11640,1.9) (11720,2.1) (11820,2.55) (11970,3.0) (12000,2.6) (12030,2.65) (12080,1.75) (12120,1.62) (12220,1.35) (12320,1.05) (12420,0.8) (12520,0.55) (12620,0.3) (12720,0.1) (12780,0.0)
(12800,0.05) (12860,0.5) (12950,1.0) (13060,1.45) (13160,1.8) (13240,1.9) (13320,2.1) (13420,2.55) (13570,3.0) (13600,2.6) (13630,2.65) (13680,1.75) (13720,1.62) (13820,1.35) (13920,1.05) (14020,0.8) (14120,0.55) (14220,0.3) (14320,0.1) (14380,0.0)
(14400,0.05) (14460,0.5) (14550,1.0) (14660,1.45) (14760,1.8) (14840,1.9) (14920,2.1) (15020,2.55) (15170,3.0) (15200,2.6) (15230,2.65) (15280,1.75) (15320,1.62) (15420,1.35) (15520,1.05) (15620,0.8) (15720,0.55) (15820,0.3) (15920,0.1) (15980,0.0)};
\end{axis}

% texts
\begin{scope}[x=0.5pt,y=-0.5pt]
\tikzset{pl/.style={font=\fs{10}\bfseries}, lab/.style={font=\fs{8}\bfseries}}
\node[pl] at (23,23) {(a)};
\node[pl] at (373,15) {(b)};
\node[pl] at (728,15) {(c)};
\node[pl] at (20,300) {(d)};
\node[pl] at (375,293) {(e)};
\node[pl] at (730,292) {(f)};
\node[font=\fs{10}] at (30,545) {(g)};
\node[font=\fs{10}] at (672,553) {(h)};
\node[pl] at (57,845) {(i)};

\node[lab] at (213,274) {Specific capacity\ \ {\tnr (mAh/g)}};
\node[lab, rotate=90] at (37,140) {Voltage (V \textit{vs}.Li\textsuperscript{+}/Li)};
\node[lab, rotate=90] at (384,134) {Specific capacity\ \ {\tnr (mAh/g)}};
\node[lab] at (560,274) {Cycle numbers (n)};
\node[lab, rotate=90] at (743,134) {Specific capacity\ \ {\tnr (mAh/g)}};
\node[lab] at (918,274) {Cycle numbers (n)};
\node[lab, rotate=90] at (37,398) {Voltage (V vs. Li\textsuperscript{+}/Li)};
\node[lab] at (213,535) {Specific capacity\ \ {\tnr (mAh/g)}};
\node[lab, rotate=90] at (391,400) {LogD (cm\textsuperscript{2}/s)};
\node[lab] at (560,535) {Voltage (V \textit{vs}.Li\textsuperscript{+}/Li)};
\node[lab, rotate=90] at (746,398) {LogD (cm\textsuperscript{2}/s)};
\node[lab] at (918,535) {Voltage (V \textit{vs}.Li\textsuperscript{+}/Li)};
\node[lab, rotate=90] at (53,667) {Specific capacity {\tnr (mAh/g)}};
\node[lab] at (381,815) {Cycle numbers (n)};
\node[font=\fs{9}\bfseries, rotate=90] at (688,673) {-Z'{}'({\tnr Ω})};
\node[font=\fs{10}\bfseries] at (891,820) {Z'({\tnr Ω})};
\node[font=\fs{9.5}\bfseries, rotate=90] at (83,990) {Specific capacity\ \ {\tnr (mAh/g)}};
\node[font=\fs{9.5}\bfseries, rotate=90, text=iOrange] at (1050,985) {Coulombic efficiency (\%)};
\node[font=\fs{10}\bfseries] at (575,1177) {Cycle numbers (n)};

\node[font=\tnr\bfseries\fs{7}] at (300,45) {0.1 A/g};
\node[font=\tnr\bfseries\fs{7}] at (467,52) {0.1 A/g};
\node[font=\tnr\bfseries\fs{8}] at (606,767) {2 A/g};
\node[font=\tnr\bfseries\fs{9}] at (902,1113) {5 A/g};

\tikzset{rate/.style={font=\fs{6}\bfseries, text=black!80}}
\node[rate] at (803,85) {0.5C};
\node[rate] at (825,98) {1C};
\node[rate] at (852,104) {2C};
\node[rate] at (880,111) {5C};
\node[rate] at (907,117) {10C};
\node[rate] at (935,128) {20C};
\node[rate] at (978,147) {50C};
\node[rate] at (1028,123) {1C};

\node[font=\fs{6}\bfseries] at (290,380) {CFS@C};
\node[font=\fs{6}\bfseries] at (463,489) {Sodiation};
\node[font=\fs{6}\bfseries] at (1019,315) {Desodiation};

\node[font=\fs{4}\bfseries] at (945,777) {Z'({\tnr Ω})};
\node[font=\fs{4}\bfseries, rotate=90] at (862,668) {-Z'{}'({\tnr Ω})};

\node[font=\fs{5}\bfseries] at (567,949) {The final 10 cycles};
\node[font=\fs{6}\bfseries] at (568,1124) {Time (s)};
\node[font=\fs{5}\bfseries, rotate=90] at (305,1018) {Voltage (V vs.Li\textsuperscript{+}/Li)};
\end{scope}
\end{tikzpicture}
\end{document}
